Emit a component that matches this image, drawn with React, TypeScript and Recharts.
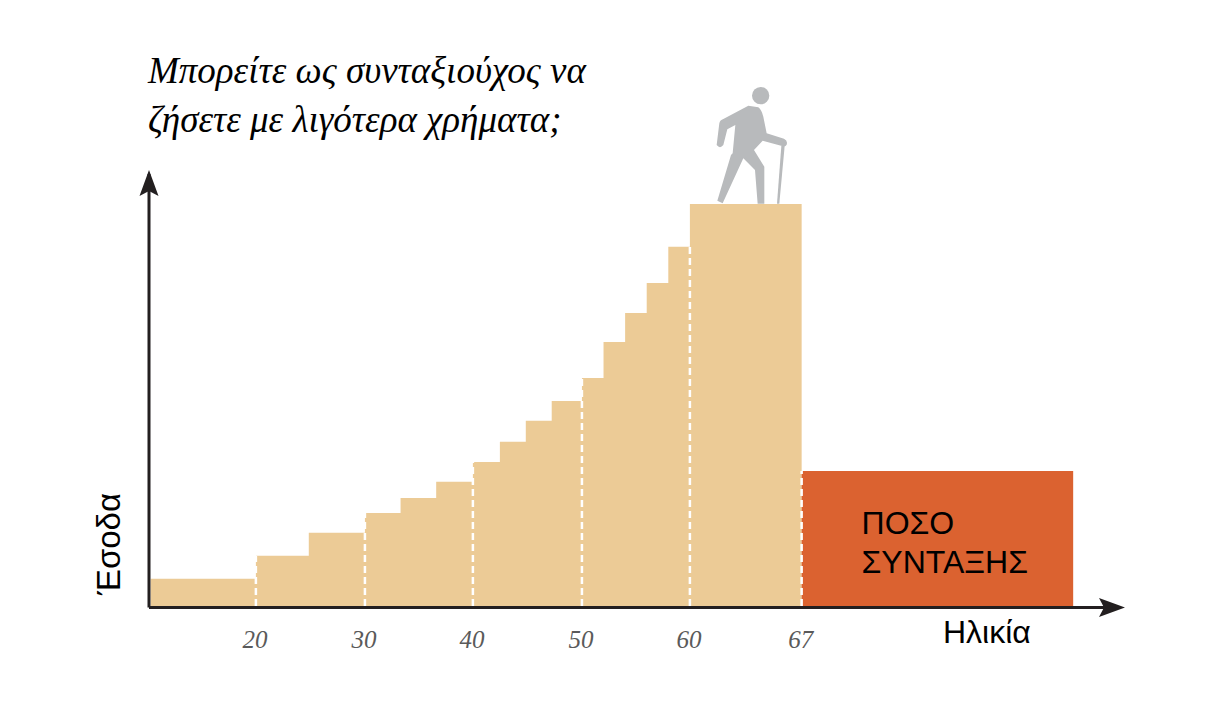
import { ComposedChart, Area, XAxis, YAxis, ReferenceLine, ReferenceDot } from "recharts";

// horizontal positions on the drawn age axis (the axis is not linear in real age)
const stepStarts = [10.15, 19.9, 24.8, 30, 33.3, 36.6, 40, 42.5, 44.9, 47.3, 50.1, 52.1, 54.1, 56.1, 58.1, 60.1, 70.45, 95.6];
const earnings = [7.1, 12.8, 18.5, 23.4, 27.1, 31.1, 36, 41, 46.2, 51.1, 56.8, 65.7, 72.9, 80.3, 89.3, 99.9, 99.9, null];
const pension = [null, null, null, null, null, null, null, null, null, null, null, null, null, null, null, null, 33.8, 33.8];

const tickPositions = [19.9, 30, 40, 50.1, 60.1, 70.45];
const tickLabels = ["20", "30", "40", "50", "60", "67"];
const dashHeights = [12.8, 23.4, 36, 56.8, 89.3, 33.8];

const titleLines = ["Μπορείτε ως συνταξιούχος να", "ζήσετε με λιγότερα χρήματα;"];
const pensionLines = ["ΠΟΣΟ", "ΣΥΝΤΑΞΗΣ"];

const chartData = stepStarts.map((x, i) => ({ x, earnings: earnings[i], pension: pension[i] }));

const SANS = "'Liberation Sans', Arial, sans-serif";
const SERIF = "'Liberation Serif', serif";
const AXIS = "#231f20";

// draws a text line on top of the series, anchored at a data position
const pensionText = (line: string) => (props: any) => (
  <text x={props.cx} y={props.cy} fontFamily={SANS} fontSize={32} fill="#000">
    {line}
  </text>
);

export default function App() {
  return (
    <div style={{ position: "absolute", left: 0, top: 0, background: "#fff" }}>
      <ComposedChart
        width={1220}
        height={721}
        data={chartData}
        margin={{ top: 174, right: 99, bottom: 73.5, left: 129 }}
      >
        <defs>
          <marker
            id="axisArrow"
            viewBox="0 0 26 20"
            refX="22"
            refY="10"
            markerWidth="26"
            markerHeight="20"
            markerUnits="userSpaceOnUse"
            orient="auto-start-reverse"
          >
            <path d="M0,0.5 L26,10 L0,19.5 L5,10 Z" fill={AXIS} />
          </marker>
        </defs>
        <XAxis
          dataKey="x"
          type="number"
          domain={[10, 100.03]}
          ticks={tickPositions}
          interval={0}
          height={40}
          tickLine={false}
          tickMargin={17}
          axisLine={{ stroke: AXIS, strokeWidth: 3, markerEnd: "url(#axisArrow)" }}
          tick={{ fill: "#5a5a5a", fontSize: 25, fontStyle: "italic", fontFamily: SERIF, dx: -1 }}
          tickFormatter={(v: number) => tickLabels[tickPositions.indexOf(v)]}
        />
        <YAxis
          type="number"
          domain={[0, 107.3]}
          width={20}
          tick={false}
          tickLine={false}
          axisLine={{ stroke: AXIS, strokeWidth: 3, markerStart: "url(#axisArrow)" }}
        />
        <Area
          type="stepAfter"
          dataKey="earnings"
          baseValue={0.4}
          fill="#eccb96"
          fillOpacity={1}
          stroke="none"
          isAnimationActive={false}
          dot={false}
          activeDot={false}
        />
        <Area
          type="stepAfter"
          dataKey="pension"
          baseValue={0.4}
          fill="#db6230"
          fillOpacity={1}
          stroke="none"
          isAnimationActive={false}
          dot={false}
          activeDot={false}
        />
        {tickPositions.map((x, i) => (
          <ReferenceLine
            key={x}
            segment={[
              { x, y: 0.4 },
              { x, y: dashHeights[i] },
            ]}
            stroke="#ffffff"
            strokeWidth={2.5}
            strokeDasharray="7 4"
          />
        ))}
        <ReferenceDot x={76} y={18.2} shape={pensionText(pensionLines[0])} />
        <ReferenceDot x={76} y={8.5} shape={pensionText(pensionLines[1])} />

        <g fontFamily={SERIF} fontStyle="italic" fontSize={37} fill="#000">
          <text x={148} y={83}>{titleLines[0]}</text>
          <text x={148} y={132}>{titleLines[1]}</text>
        </g>
        <g fontFamily={SANS} fontSize={32} fill="#000">
          <text x={943} y={643}>Ηλικία</text>
          <text transform="translate(120,595) rotate(-90)" fontSize={33}>Έσοδα</text>
        </g>
        {/* walking figure on the top step */}
        <g transform="translate(660,70) scale(0.3333)" fill="#b8babc">
          <circle cx={302} cy={77} r={26} />
          <path d="M265,107 L295,112 Q305,120 310,140 L320,190 L372,206 Q384,212 380,224 Q376,232 366,228 L308,212 L282,240 L313,290 L313,401 L293,401 L285,300 L250,265 L188,400 L172,392 L213,255 L218,250 L226,165 L202,178 L190,225 Q180,238 170,225 L178,160 Q180,150 190,147 Z" />
          <path d="M364,228 L374,228 L358,401 L351,401 Z" />
        </g>
      </ComposedChart>
    </div>
  );
}
